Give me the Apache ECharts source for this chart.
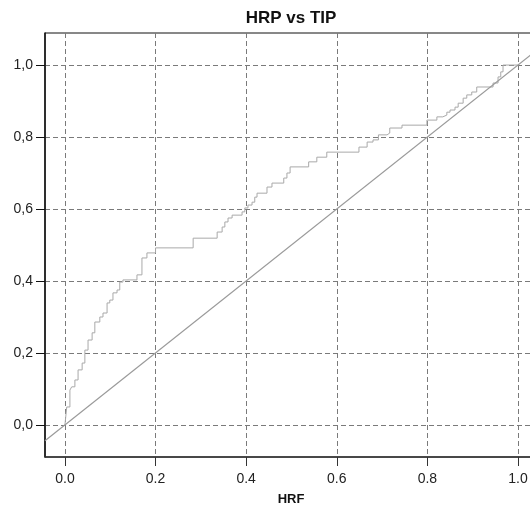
<!DOCTYPE html>
<html>
<head>
<meta charset="utf-8">
<script src="https://cdn.jsdelivr.net/npm/echarts@6/dist/echarts.min.js"></script>
<style>
  html, body { margin: 0; padding: 0; background: #ffffff; }
  #chart { width: 530px; height: 507px; }
</style>
</head>
<body>
<div id="chart"></div>
<script>
// Labels
const chartTitle = 'HRP vs TIP';
const xName = 'HRF';

// Tick positions on both axes
const xTicks = [0, 0.2, 0.4, 0.6, 0.8, 1.0];
const yTicks = [0, 0.2, 0.4, 0.6, 0.8, 1.0];

// Axis extents
const xRange = [-0.044, 1.042];
const yRange = [-0.089, 1.089];

// ROC curve corners (false positive rate, true positive rate)
const fpr = [0, 0.004, 0.011, 0.015, 0.022, 0.029, 0.038, 0.044, 0.051, 0.060,
  0.066, 0.077, 0.084, 0.093, 0.099, 0.106, 0.115, 0.121, 0.128, 0.159,
  0.170, 0.181, 0.200, 0.283, 0.336, 0.347, 0.353, 0.360, 0.369, 0.391,
  0.397, 0.404, 0.413, 0.419, 0.424, 0.446, 0.457, 0.483, 0.490, 0.497,
  0.538, 0.556, 0.578, 0.649, 0.667, 0.680, 0.692, 0.711, 0.717, 0.744,
  0.799, 0.821, 0.834, 0.843, 0.850, 0.861, 0.868, 0.879, 0.887, 0.898,
  0.909, 0.945, 0.956, 0.962, 0.967, 1.0];
const tpr = [0, 0.050, 0.097, 0.106, 0.125, 0.153, 0.172, 0.208, 0.236, 0.256,
  0.286, 0.300, 0.311, 0.339, 0.347, 0.367, 0.375, 0.397, 0.403, 0.417,
  0.464, 0.478, 0.492, 0.519, 0.536, 0.550, 0.564, 0.575, 0.583, 0.592,
  0.603, 0.611, 0.619, 0.633, 0.644, 0.661, 0.672, 0.686, 0.700, 0.717,
  0.731, 0.744, 0.758, 0.772, 0.786, 0.792, 0.806, 0.811, 0.825, 0.833,
  0.847, 0.856, 0.861, 0.869, 0.875, 0.883, 0.894, 0.908, 0.917, 0.925,
  0.939, 0.950, 0.967, 0.981, 1.0, 1.0];

const font = "'Liberation Sans', Arial, sans-serif";
const rocData = fpr.map((x, i) => [x, tpr[i]]);
const refLine = [[xRange[0], xRange[0]], [xRange[1], xRange[1]]];

const gridLine = { show: true, lineStyle: { color: '#7a7a7a', width: 1, type: [5, 3] } };

const chart = echarts.init(document.getElementById('chart'), null, { renderer: 'canvas' });
chart.setOption({
  animation: false,
  backgroundColor: '#ffffff',
  title: {
    text: chartTitle,
    left: 291,
    top: 10,
    padding: 0,
    textAlign: 'center',
    textStyle: { fontFamily: font, fontSize: 17, fontWeight: 'bold', color: '#111' }
  },
  grid: {
    left: 45, top: 33, width: 492, bottom: 50,
    outerBoundsMode: 'none',
    containLabel: false,
    show: true, borderColor: '#111', borderWidth: 1, backgroundColor: '#ffffff'
  },
  xAxis: {
    type: 'value',
    min: xRange[0], max: xRange[1],
    name: xName,
    nameLocation: 'middle',
    nameGap: 36,
    nameTextStyle: { fontFamily: font, fontSize: 13, fontWeight: 'bold', color: '#111' },
    axisLine: { show: true, onZero: false, lineStyle: { color: '#333', width: 1.5 } },
    axisTick: { show: true, length: 9, customValues: xTicks, lineStyle: { color: '#333' } },
    axisLabel: {
      customValues: xTicks, margin: 15,
      fontFamily: font, fontSize: 14, color: '#222',
      formatter: v => v.toFixed(1)
    },
    splitLine: gridLine
  },
  yAxis: {
    type: 'value',
    min: yRange[0], max: yRange[1],
    axisLine: { show: true, onZero: false, lineStyle: { color: '#111', width: 1.5 } },
    axisTick: { show: true, length: 9, customValues: yTicks, lineStyle: { color: '#111' } },
    axisLabel: {
      customValues: yTicks, margin: 12,
      fontFamily: font, fontSize: 14, color: '#222',
      formatter: v => v.toFixed(1).replace('.', ',')
    },
    splitLine: gridLine
  },
  series: [
    {
      type: 'line',
      data: rocData,
      step: 'end',
      showSymbol: false,
      lineStyle: { color: '#a9a9a9', width: 1 },
      z: 3
    },
    {
      type: 'line',
      data: refLine,
      showSymbol: false,
      lineStyle: { color: '#9a9a9a', width: 1.2 },
      z: 4
    }
  ]
});
</script>
</body>
</html>
